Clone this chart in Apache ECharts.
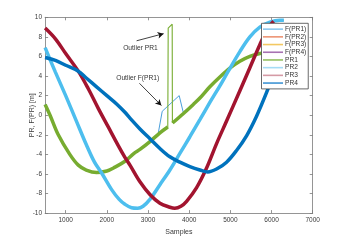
<!DOCTYPE html>
<html>
<head>
<meta charset="utf-8">
<script src="https://cdn.jsdelivr.net/npm/echarts@6/dist/echarts.min.js"></script>
<style>
html,body{margin:0;padding:0;background:#fff;}
#c{width:345px;height:241px;}
</style>
</head>
<body>
<div id="c"></div>
<script>
// ---- data ----
const xTickValues = [1000, 2000, 3000, 4000, 5000, 6000, 7000];
const yTickValues = [-10, -8, -6, -4, -2, 0, 2, 4, 6, 8, 10];

const pr1 = [[500,1.1],[620,0],[820,-2],[1100,-4],[1306,-5.1],[1500,-5.6],[1750,-5.85],[2000,-5.7],[2200,-5.3],[2440,-4.7],[2660,-3.9],[2804,-3.5],[3046,-2.7],[3289,-1.8],[3480,-1.2],[3485,'-'],[3595,-0.8],[3855,0.15],[4100,1.1],[4260,1.75],[4502,2.9],[4745,3.9],[4988,4.8],[5231,5.5],[5474,6.0],[5716,6.3],[5950,6.4]];
const pr1Spike = [[3480,-1.3],[3490,8.9],[3530,9.1],[3587,9.3],[3592,-0.8]];
const fpr1 = [[500,1.1],[620,0],[820,-2],[1100,-4],[1306,-5.1],[1500,-5.6],[1750,-5.85],[2000,-5.7],[2200,-5.3],[2440,-4.7],[2660,-3.9],[2804,-3.5],[3046,-2.7],[3250,-1.8],[3345,0.4],[3757,2.0],[3855,0.3],[4100,1.1],[4260,1.75],[4502,2.9],[4745,3.9],[4988,4.8],[5231,5.5],[5474,6.0],[5716,6.3],[5950,6.4]];
const pr2 = [[500,6.9],[750,4.4],[1000,2.0],[1250,-0.5],[1500,-3.0],[1700,-4.8],[1873,-5.9],[2116,-7.6],[2300,-8.6],[2439,-9.1],[2600,-9.45],[2750,-9.5],[2880,-9.3],[3046,-8.6],[3289,-7.1],[3531,-5.6],[3774,-3.9],[4017,-2.2],[4260,-0.45],[4502,1.3],[4745,3.0],[4950,4.5],[5231,6.5],[5474,8.0],[5716,9.0],[5959,9.5],[6200,9.7],[6300,9.7]];
const pr3 = [[500,8.9],[750,7.8],[1000,6.3],[1306,4.5],[1549,2.7],[1791,0.7],[2034,-1.2],[2277,-3.1],[2439,-4.3],[2561,-5.1],[2804,-6.8],[3046,-8.1],[3289,-9.0],[3531,-9.4],[3650,-9.5],[3800,-9.3],[3937,-8.8],[4180,-7.4],[4422,-5.4],[4665,-2.9],[4908,-0.6],[5231,2.5],[5474,4.85],[5716,7.2],[5900,8.8],[6050,9.6]];
const pr4 = [[500,5.9],[750,5.6],[1000,5.1],[1306,4.5],[1500,3.8],[1750,2.9],[2000,2.0],[2250,1.1],[2439,0.3],[2561,-0.3],[2804,-1.4],[3046,-2.4],[3289,-3.4],[3531,-4.25],[3774,-4.8],[4017,-5.25],[4260,-5.6],[4450,-5.8],[4665,-5.5],[4908,-4.8],[5150,-3.6],[5393,-2.1],[5636,-0.1],[5878,2.3],[6000,3.7],[6200,6.0]];

const seriesNames = ['F(PR1)','F(PR2)','F(PR3)','F(PR4)','PR1','PR2','PR3','PR4'];
const colors = {
  'F(PR1)':'#4A9FDB','F(PR2)':'#D95319','F(PR3)':'#EDB120','F(PR4)':'#7E2F8E',
  'PR1':'#77AC30','PR2':'#4DBEEE','PR3':'#A2142F','PR4':'#0072BD'
};
const legendColors = {
  'F(PR1)':'#8CC8EE','F(PR2)':'#EC9474','F(PR3)':'#F3C862','F(PR4)':'#A772B2',
  'PR1':'#94C061','PR2':'#A5DCF5','PR3':'#D59AA5','PR4':'#3F94D4'
};

const font = 'Liberation Sans, Arial, Helvetica, sans-serif';
const axisColor = '#7a7a7a';
const labelColor = '#3a3a3a';

function line(name, data, width, extra) {
  return Object.assign({
    name: name, type: 'line', data: data, symbol: 'none', showSymbol: false,
    connectNulls: false, animation: false, silent: true, smooth: 0.35,
    lineStyle: {color: colors[name], width: width},
    itemStyle: {color: colors[name]}
  }, extra || {});
}

const chart = echarts.init(document.getElementById('c'), null, {renderer: 'canvas'});
chart.setOption({
  animation: false,
  backgroundColor: '#fff',
  grid: {left: 45.1, right: 32.3, top: 17.3, bottom: 26, containLabel: false},
  legend: {
    show: true, type: 'plain',
    orient: 'vertical', left: 261.5, top: 23.3,
    padding: [2, 2, 2, 1.5], itemGap: 0, itemWidth: 20, itemHeight: 1.6,
    backgroundColor: '#fff', borderColor: '#444', borderWidth: 0.8, borderRadius: 0,
    textStyle: {fontFamily: font, fontSize: 6.6, lineHeight: 7.7, color: '#333', padding: [0, 0, 0, -3]},
    selectedMode: false,
    icon: 'rect',
    data: seriesNames.map(n => ({name: n, icon: 'rect', itemStyle: {color: legendColors[n]}}))
  },
  xAxis: [{
    type: 'value', min: 500, max: 7000, position: 'bottom',
    name: 'Samples', nameLocation: 'middle', nameGap: 13,
    nameTextStyle: {fontFamily: font, fontSize: 7, color: labelColor},
    axisLine: {show: true, onZero: false, lineStyle: {color: axisColor, width: 0.8}},
    axisTick: {show: true, inside: true, length: 3, customValues: xTickValues, lineStyle: {color: axisColor, width: 0.8}},
    axisLabel: {show: true, customValues: xTickValues, formatter: v => String(v), margin: 4, fontFamily: font, fontSize: 6.5, color: labelColor},
    splitLine: {show: false}
  }, {
    type: 'value', min: 500, max: 7000, position: 'top',
    axisLine: {show: true, onZero: false, lineStyle: {color: axisColor, width: 0.8}},
    axisTick: {show: true, inside: true, length: 3, customValues: xTickValues, lineStyle: {color: axisColor, width: 0.8}},
    axisLabel: {show: false}, splitLine: {show: false}
  }],
  yAxis: [{
    type: 'value', min: -10, max: 10, interval: 2, position: 'left',
    name: 'PR, F(PR) [m]', nameLocation: 'middle', nameGap: 10, nameRotate: 90,
    nameMoveOverlap: false,
    nameTextStyle: {fontFamily: font, fontSize: 7, color: labelColor},
    axisLine: {show: true, onZero: false, lineStyle: {color: axisColor, width: 0.8}},
    axisTick: {show: true, inside: true, length: 3, lineStyle: {color: axisColor, width: 0.8}},
    axisLabel: {show: true, customValues: yTickValues, formatter: v => String(v), margin: 3, fontFamily: font, fontSize: 6.5, color: labelColor},
    splitLine: {show: false}
  }, {
    type: 'value', min: -10, max: 10, interval: 2, position: 'right',
    axisLine: {show: true, onZero: false, lineStyle: {color: axisColor, width: 0.8}},
    axisTick: {show: true, inside: true, length: 3, lineStyle: {color: axisColor, width: 0.8}},
    axisLabel: {show: false}, splitLine: {show: false}
  }],
  series: [
    line('F(PR1)', fpr1, 1, {z: 2, smooth: false}),
    line('F(PR2)', pr2, 1, {z: 2}),
    line('F(PR3)', pr3, 1, {z: 2}),
    line('F(PR4)', pr4, 1, {z: 2}),
    line('PR1', pr1, 3.5, {z: 3}),
    line('PR2', pr2, 3.5, {z: 3}),
    line('PR3', pr3, 3.5, {z: 3}),
    line('PR4', pr4, 3.5, {z: 3}),
    {
      name: 'PR1 outlier', type: 'line', data: pr1Spike, symbol: 'none', silent: true, z: 3,
      lineStyle: {color: colors['PR1'], width: 1.1}, itemStyle: {color: colors['PR1']}
    },
    {
      name: 'annotations', type: 'line', data: [], symbol: 'none', silent: true, z: 5,
      markLine: {
        silent: true, animation: false,
        symbol: ['none', 'arrow'], symbolSize: [5, 6],
        lineStyle: {color: '#111', width: 0.8, type: 'solid'},
        label: {show: false},
        data: [
          [{coord: [2723, 7.6]}, {coord: [3379, 8.33]}],
          [{coord: [2791, 3.26]}, {coord: [3325, 0.99]}]
        ]
      },
      markPoint: {
        silent: true, animation: false, symbol: 'circle', symbolSize: 0,
        itemStyle: {color: 'transparent'},
        label: {show: true, position: 'inside', formatter: '{b}', fontFamily: font, fontSize: 6.7, color: '#333'},
        data: [
          {name: 'Outlier PR1', coord: [2816, 6.87]},
          {name: 'Outlier F(PR1)', coord: [2750, 3.74]}
        ]
      }
    }
  ]
});
</script>
</body>
</html>
